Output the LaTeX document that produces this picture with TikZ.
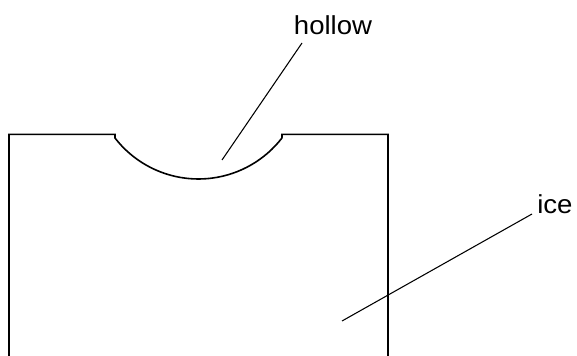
\documentclass[tikz,border=0pt]{standalone}
\usepackage{fontspec}
\setmainfont{Liberation Sans}
\usepackage{tikz}
\usetikzlibrary{positioning}

\begin{document}
\begin{tikzpicture}[x=0.75pt,y=0.75pt,yscale=-1,xscale=1]
\useasboundingbox (0,0) rectangle (577,356);
\tikzset{
  outline/.style={line width=1.2pt, line join=miter},
  leader/.style={line width=0.8pt},
  tag/.style={inner sep=0pt, font=\fontsize{19.5}{22}\selectfont, xscale=1.06}
}

%Shape: Block outline with hollow
\draw [outline] (9,356) -- (9,134.3) -- (115,134.3) -- (115,138) arc [start angle=142.3, end angle=37.7, radius=105.5] -- (282,134.3) -- (388,134.3) -- (388,356) ;

%Text: labels
\node [tag, anchor=base] (hollow) at (333,35) {hollow};
\node [tag, anchor=base west] (ice) at (537,213) {ice};

%Straight Lines: leaders
\coordinate (hollowtop) at (302,43);
\coordinate (hollowtip) at (222,160);
\draw [leader] (hollowtop) -- (hollowtip) ;
\coordinate (icetop) at (532,214);
\coordinate (icetip) at (342,321);
\draw [leader] (icetop) -- (icetip) ;

\end{tikzpicture}
\end{document}
